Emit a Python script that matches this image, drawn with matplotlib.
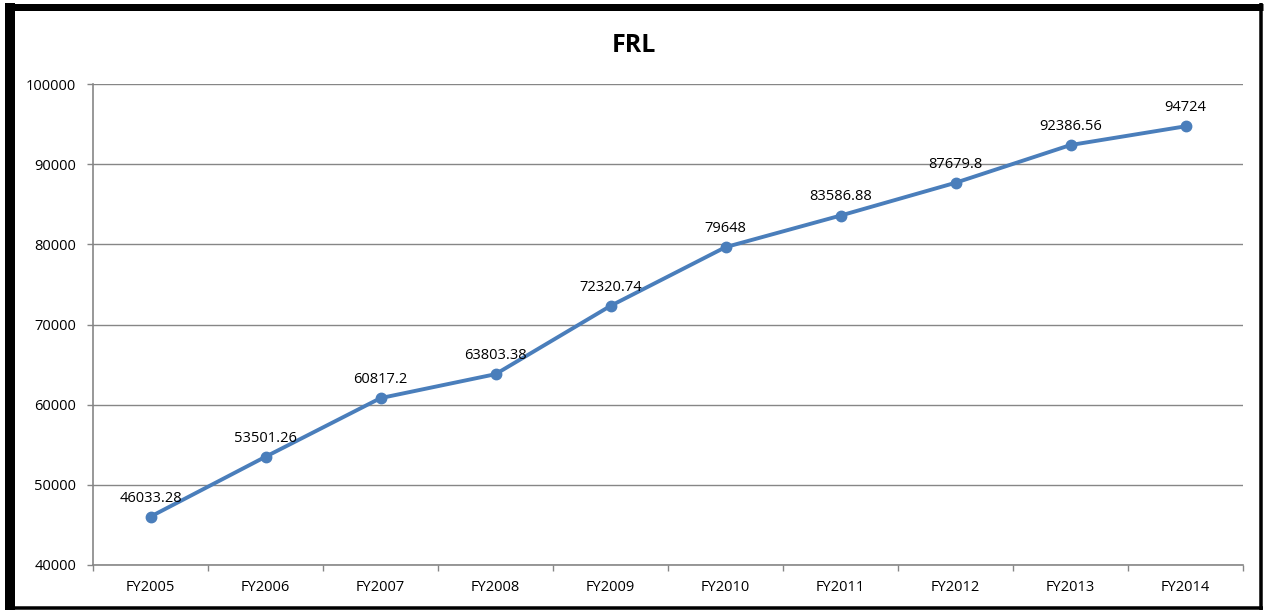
import matplotlib.pyplot as plt
from matplotlib.lines import Line2D
import numpy as np

plt.rcParams['font.family'] = ['Open Sans', 'DejaVu Sans']

# data
years = ['FY2005', 'FY2006', 'FY2007', 'FY2008', 'FY2009',
         'FY2010', 'FY2011', 'FY2012', 'FY2013', 'FY2014']
frl = [46033.28, 53501.26, 60817.2, 63803.38, 72320.74,
       79648, 83586.88, 87679.8, 92386.56, 94724]
labels = ['46033.28', '53501.26', '60817.2', '63803.38', '72320.74',
          '79648', '83586.88', '87679.8', '92386.56', '94724']
yticks = [40000, 50000, 60000, 70000, 80000, 90000, 100000]

W, H = 1268, 613
fig = plt.figure(figsize=(W / 100, H / 100), dpi=100)
ax = fig.add_axes([93 / W, 1 - 565 / H, 1150 / W, 481 / H])

x = np.arange(len(years))
line_color = '#4A7EBB'
ax.plot(x, frl, color=line_color, lw=2.8, marker='o', ms=7.5,
        markerfacecolor=line_color, markeredgecolor=line_color, zorder=3)

for xi, yi, lab in zip(x, frl, labels):
    ax.annotate(lab, (xi, yi), xytext=(0, 8), textcoords='offset points',
                ha='center', va='bottom', fontsize=10.5, color='black')

ax.set_xlim(-0.5, len(years) - 0.5)
ax.set_ylim(40000, 100000)
ax.set_yticks(yticks)
ax.set_yticklabels([str(v) for v in yticks], fontsize=10.5)
ax.yaxis.grid(True, color='#868686', lw=1)
ax.set_axisbelow(True)

# category labels centred, tick marks on the boundaries
ax.set_xticks(np.arange(-0.5, len(years)), minor=False)
ax.set_xticklabels([])
ax.set_xticks(x, minor=True)
ax.set_xticklabels(years, minor=True, fontsize=10.5)
ax.tick_params(axis='x', which='major', length=4, color='#868686', width=1)
ax.tick_params(axis='x', which='minor', length=0, pad=11)
ax.tick_params(axis='y', length=4, color='#868686', width=1, pad=8)

for side in ['top', 'right']:
    ax.spines[side].set_visible(False)
for side in ['left', 'bottom']:
    ax.spines[side].set_color('#868686')
    ax.spines[side].set_linewidth(1.2)

fig.text(0.5, 1 - 45 / H, 'FRL', ha='center', va='center',
         fontsize=18, fontweight='bold')

# outer black frame
def px(xp, yp):
    return xp / W, 1 - yp / H

for (x0, y0), (x1, y1), lw in [
        ((10, 3), (10, 610), 10),
        ((5, 6.5), (1263, 6.5), 7),
        ((1261, 3), (1261, 610), 3.5),
        ((5, 608), (1263, 608), 3.5)]:
    a, b = px(x0, y0)
    c, d = px(x1, y1)
    fig.add_artist(Line2D([a, c], [b, d], color='black', lw=lw * 0.72,
                          solid_capstyle='butt'))

fig.savefig('out.png', dpi=100)
